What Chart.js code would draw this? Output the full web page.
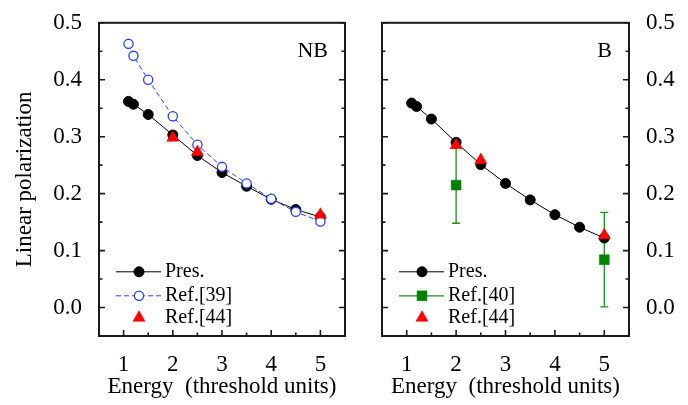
<!DOCTYPE html>
<html>
<head>
<meta charset="utf-8">
<script src="https://cdn.jsdelivr.net/npm/chart.js@4.4.1/dist/chart.umd.min.js"></script>
<style>
  body { margin: 0; background: #fff; }
  #wrap { position: relative; width: 688px; height: 405px; }
  canvas { position: absolute; left: 0; top: 0; }
</style>
</head>
<body>
<div id="wrap">
  <canvas id="nbChart" width="688" height="405"></canvas>
  <canvas id="bChart" width="688" height="405"></canvas>
</div>
<script>
// energies (threshold units)
const energy = [1.1, 1.2, 1.5, 2.0, 2.5, 3.0, 3.5, 4.0, 4.5, 5.0]

// NB panel
const presNB = [0.362, 0.357, 0.339, 0.303, 0.267, 0.237, 0.213, 0.190, 0.172, 0.159]
const ref39NB = [0.463, 0.442, 0.400, 0.336, 0.286, 0.247, 0.218, 0.191, 0.168, 0.151]
const ref44Energy = [2.0, 2.5, 5.0]
const ref44NB = [0.298, 0.273, 0.163]

// B panel
const presB = [0.359, 0.353, 0.331, 0.290, 0.251, 0.218, 0.189, 0.163, 0.141, 0.122]
const ref40Energy = [2.0, 5.0]
const ref40B = [0.215, 0.084]
const ref40Err = [0.067, 0.083]
const ref44B = [0.285, 0.259, 0.127]

const xTicks = [1, 2, 3, 4, 5]
const yTicks = [0.0, 0.1, 0.2, 0.3, 0.4, 0.5]

const serif = '"Liberation Serif", "Times New Roman", serif'
Chart.defaults.font.family = serif
Chart.defaults.color = '#000'

const toPts = (xs, ys) => xs.map((x, i) => ({ x: x, y: ys[i] }))
const mids = arr => arr.slice(1).map((v, i) => (v + arr[i]) / 2)

// frame, inward ticks, panel tag and legend
const framePlugin = {
  id: 'framePlugin',
  afterDraw(chart, args, opts) {
    const ctx = chart.ctx
    const a = chart.chartArea
    const x = chart.scales.x
    const y = chart.scales.y
    ctx.save()
    ctx.strokeStyle = '#1a1a1a'
    ctx.lineWidth = 2
    ctx.strokeRect(a.left, a.top, a.right - a.left, a.bottom - a.top)

    ctx.lineWidth = 1.6
    ctx.beginPath()
    xTicks.forEach(v => {
      const px = x.getPixelForValue(v)
      ctx.moveTo(px, a.bottom); ctx.lineTo(px, a.bottom - 6)
    })
    mids(xTicks).forEach(v => {
      const px = x.getPixelForValue(v)
      ctx.moveTo(px, a.bottom); ctx.lineTo(px, a.bottom - 3.5)
    })
    yTicks.forEach(v => {
      const py = y.getPixelForValue(v)
      ctx.moveTo(a.left, py); ctx.lineTo(a.left + 6, py)
      ctx.moveTo(a.right, py); ctx.lineTo(a.right - 6, py)
    })
    mids(yTicks).forEach(v => {
      const py = y.getPixelForValue(v)
      ctx.moveTo(a.left, py); ctx.lineTo(a.left + 3.5, py)
      ctx.moveTo(a.right, py); ctx.lineTo(a.right - 3.5, py)
    })
    ctx.stroke()

    // panel tag
    ctx.fillStyle = '#000'
    ctx.font = '22px ' + serif
    ctx.textAlign = 'right'
    ctx.textBaseline = 'middle'
    ctx.fillText(opts.tag, a.right - 17, a.top + 28)

    // legend
    ctx.font = '20px ' + serif
    ctx.textAlign = 'left'
    const rowY = [249, 273, 295]
    opts.order.forEach((idx, r) => {
      const ds = chart.data.datasets[idx]
      const yy = a.top + rowY[r]
      if (ds.legendLine) {
        ctx.save()
        ctx.strokeStyle = ds.borderColor
        ctx.lineWidth = ds.borderWidth
        ctx.setLineDash(ds.borderDash || [])
        ctx.beginPath()
        ctx.moveTo(a.left + 17, yy); ctx.lineTo(a.left + 62, yy)
        ctx.stroke()
        ctx.restore()
      }
      ctx.save()
      ctx.fillStyle = ds.pointBackgroundColor
      ctx.strokeStyle = ds.pointBorderColor
      ctx.lineWidth = ds.pointBorderWidth
      Chart.helpers.drawPoint(ctx, {
        pointStyle: ds.pointStyle, radius: ds.pointRadius, rotation: 0, borderWidth: ds.pointBorderWidth
      }, a.left + 40, yy)
      ctx.restore()
      ctx.fillStyle = '#000'
      ctx.fillText(ds.label, a.left + 66, yy)
    })
    ctx.restore()
  }
}

// vertical error bars
const errorBars = {
  id: 'errorBars',
  beforeDatasetsDraw(chart) {
    const ctx = chart.ctx
    const y = chart.scales.y
    chart.data.datasets.forEach((ds, i) => {
      if (!ds.errors) return
      const meta = chart.getDatasetMeta(i)
      ctx.save()
      ctx.strokeStyle = ds.borderColor
      ctx.lineWidth = 1.3
      ctx.beginPath()
      ds.data.forEach((p, j) => {
        const px = meta.data[j].x
        const top = y.getPixelForValue(p.y + ds.errors[j])
        const bot = y.getPixelForValue(p.y - ds.errors[j])
        ctx.moveTo(px, top); ctx.lineTo(px, bot)
        ctx.moveTo(px - 4, top); ctx.lineTo(px + 4, top)
        ctx.moveTo(px - 4, bot); ctx.lineTo(px + 4, bot)
      })
      ctx.stroke()
      ctx.restore()
    })
  }
}

function presSet(values) {
  return {
    label: 'Pres.', data: toPts(energy, values), showLine: true, legendLine: true,
    borderColor: '#000', borderWidth: 1,
    pointStyle: 'circle', pointRadius: 5, pointBackgroundColor: '#000',
    pointBorderColor: '#000', pointBorderWidth: 1
  }
}

function ref44Set(values) {
  return {
    label: 'Ref.[44]', data: toPts(ref44Energy, values), showLine: false, legendLine: false,
    borderColor: '#ff0000', borderWidth: 1,
    pointStyle: 'triangle', pointRadius: 7, pointBackgroundColor: '#ff0000',
    pointBorderColor: '#ff0000', pointBorderWidth: 0.5
  }
}

function scalesFor(side, width) {
  return {
    x: {
      type: 'linear', min: 0.5, max: 5.5,
      grid: { display: false }, border: { display: false },
      afterBuildTicks: s => { s.ticks = xTicks.map(v => ({ value: v })) },
      afterFit: s => { s.height = 69 },
      ticks: { font: { size: 23 }, padding: 7, color: '#000' },
      title: { display: true, text: 'Energy  (threshold units)', font: { size: 23 }, color: '#000', padding: { top: 4, bottom: 4 } }
    },
    y: {
      type: 'linear', position: side, min: -0.05, max: 0.5,
      grid: { display: false }, border: { display: false },
      afterBuildTicks: s => { s.ticks = yTicks.map(v => ({ value: v })) },
      afterFit: s => { s.width = width },
      ticks: { font: { size: 23 }, padding: 9, color: '#000', callback: v => v.toFixed(1) },
      title: {
        display: side === 'left', text: 'Linear polarization',
        font: { size: 23 }, color: '#000', padding: { top: 3, bottom: 0 }
      }
    }
  }
}

const common = {
  responsive: false, animation: false, events: [],
  plugins: { legend: { display: false }, tooltip: { enabled: false } }
}

new Chart(document.getElementById('nbChart'), {
  type: 'scatter',
  data: {
    datasets: [
      ref44Set(ref44NB),
      {
        label: 'Ref.[39]', data: toPts(energy, ref39NB), showLine: true, legendLine: true,
        borderColor: '#2a3ff0', borderWidth: 1, borderDash: [5, 3],
        pointStyle: 'circle', pointRadius: 4.6, pointBackgroundColor: '#fff',
        pointBorderColor: '#2a3ff0', pointBorderWidth: 1.3
      },
      presSet(presNB)
    ]
  },
  options: {
    ...common,
    layout: { padding: { left: 8, right: 343, top: 14, bottom: 0 } },
    scales: scalesFor('left', 91),
    plugins: { ...common.plugins, framePlugin: { tag: 'NB', order: [2, 1, 0] } }
  },
  plugins: [errorBars, framePlugin]
})

new Chart(document.getElementById('bChart'), {
  type: 'scatter',
  data: {
    datasets: [
      ref44Set(ref44B),
      {
        label: 'Ref.[40]', data: toPts(ref40Energy, ref40B), errors: ref40Err,
        showLine: false, legendLine: true,
        borderColor: '#1e8c1e', borderWidth: 1.3,
        pointStyle: 'rect', pointRadius: 7, pointBackgroundColor: '#008000',
        pointBorderColor: '#008000', pointBorderWidth: 0.5
      },
      presSet(presB)
    ]
  },
  options: {
    ...common,
    layout: { padding: { left: 382, right: 0, top: 14, bottom: 0 } },
    scales: scalesFor('right', 59),
    plugins: { ...common.plugins, framePlugin: { tag: 'B', order: [2, 1, 0] } }
  },
  plugins: [errorBars, framePlugin]
})
</script>
</body>
</html>
